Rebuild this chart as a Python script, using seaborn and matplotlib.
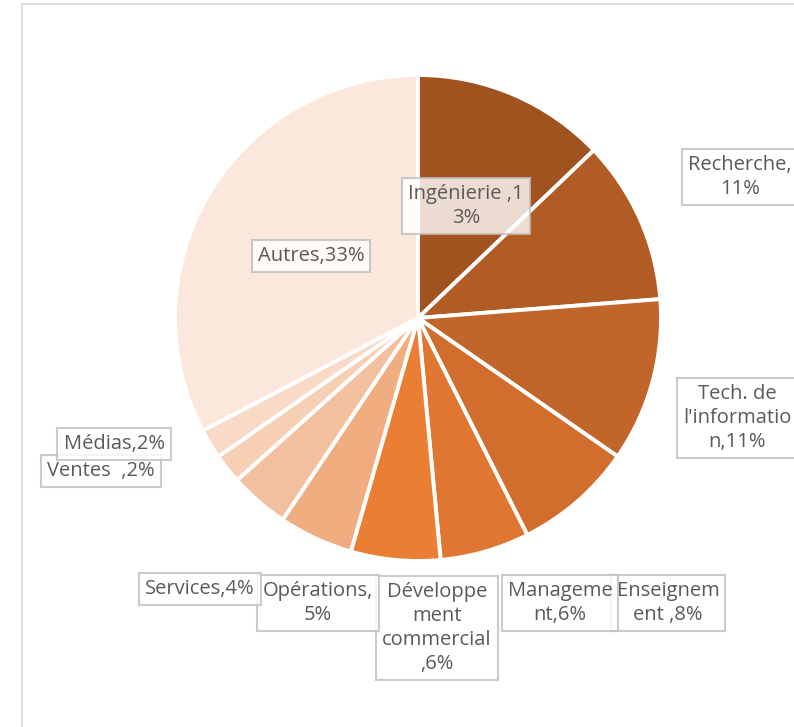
import matplotlib
matplotlib.use("Agg")
import matplotlib.pyplot as plt
from matplotlib.patches import Rectangle
import seaborn as sns

# ---- data (clockwise from 12 o'clock) ----
categories = ["Ingénierie", "Recherche", "Tech. de l'information", "Enseignement",
              "Management", "Développement commercial", "Opérations", "Services",
              "Ventes", "Médias", "Autres"]
shares = [13, 11, 11, 8, 6, 6, 5, 4, 2, 2, 33]
label_texts = ["Ingénierie ,1\n3%", "Recherche,\n11%", "Tech. de\nl'informatio\nn,11%",
               "Enseignem\nent ,8%", "Manageme\nnt,6%", "Développe\nment\ncommercial\n,6%",
               "Opérations,\n5%", "Services,4%", "Ventes  ,2%", "Médias,2%", "Autres,33%"]
slice_colors = ["#a0521f", "#b15c25", "#c2652a", "#d16e2e", "#df7631", "#ea7e33",
                "#f0ad7f", "#f3c09f", "#f6cfb4", "#f8dac7", "#fbe7dc"]

# ---- layout (pixels, origin top-left) ----
W, H = 794, 727
center = (418, 318)
radius = 243
label_pos = [(466, 206), (740, 177), (737, 418), (668, 603), (560, 603), (437, 628),
             (318, 603), (200, 589), (101, 471), (114, 444), (311, 256)]

sns.set_theme(style="white")
plt.rcParams["font.family"] = ["Open Sans", "DejaVu Sans"]

fig = plt.figure(figsize=(W / 100, H / 100), dpi=100)
ax = fig.add_axes([0, 0, 1, 1])

# chart area frame (cut off right/bottom)
fig.add_artist(Rectangle((22 / W, -0.1), 1.2, 1.1 - 4 / H, transform=fig.transFigure,
                         fill=False, edgecolor="#d9d9d9", lw=1.2))

pal = sns.color_palette(slice_colors)
ax.pie(shares, colors=pal, startangle=90, counterclock=False,
       center=(center[0], H - center[1]), radius=radius,
       wedgeprops=dict(edgecolor="white", linewidth=2.8), frame=True)
ax.set_xlim(0, W)
ax.set_ylim(0, H)
ax.axis("off")

for i, txt in enumerate(label_texts):
    x, y = label_pos[i]
    ax.text(x, H - y, txt, ha="center", va="center", fontsize=14.5,
            color="#595959", linespacing=1.25,
            bbox=dict(boxstyle="square,pad=0.3", facecolor="white", alpha=0.8,
                      edgecolor="#bfbfbf", linewidth=1.5))

fig.savefig("out.png", dpi=100)
